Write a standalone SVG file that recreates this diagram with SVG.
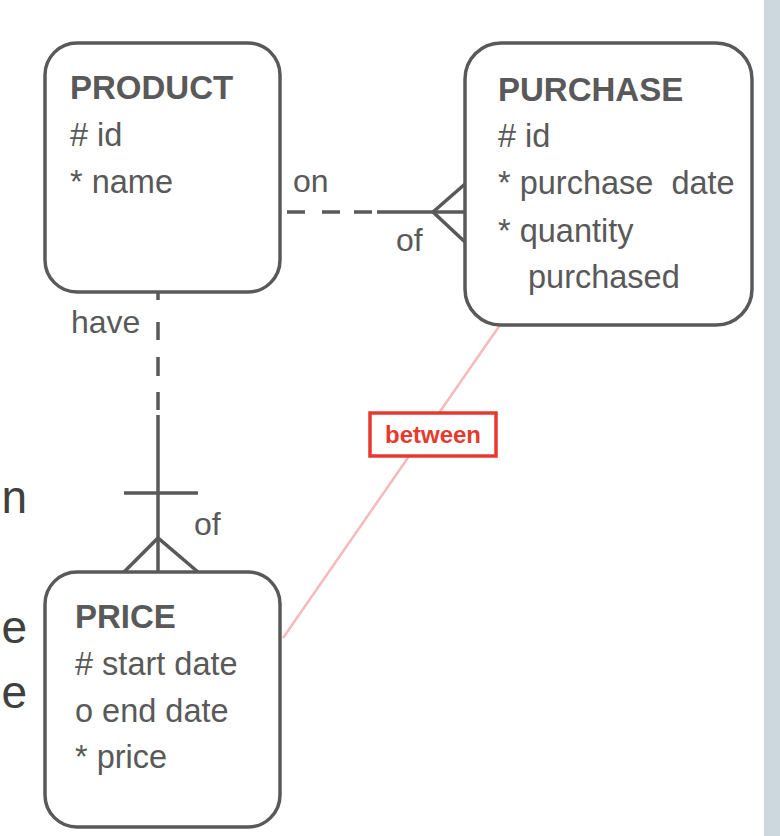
<svg xmlns="http://www.w3.org/2000/svg" width="780" height="836" viewBox="0 0 780 836">
<style>
.box{fill:#fff;stroke:#595959;stroke-width:3.5}
.ttl{font-family:"Liberation Sans",Arial,sans-serif;font-weight:bold;font-size:33px;fill:#595959}
.att{font-family:"Liberation Sans",Arial,sans-serif;font-size:32.5px;fill:#595959}
.lbl{font-family:"Liberation Sans",Arial,sans-serif;font-size:32px;fill:#595959}
.ln{fill:none;stroke:#595959;stroke-width:3.5}
.cut{font-family:"Liberation Sans",Arial,sans-serif;font-size:46px;fill:#404040}
</style>
<rect x="0" y="0" width="780" height="836" fill="#fff"/>
<rect x="764" y="0" width="16" height="836" fill="#cdd8de"/>
<g id="margin-text">
<text class="cut" x="27" y="513" text-anchor="end">n</text>
<text class="cut" x="27" y="643" text-anchor="end">e</text>
<text class="cut" x="27" y="708" text-anchor="end">e</text>
</g>
<g id="connectors">
<line x1="500" y1="325" x2="283" y2="638" stroke="#f5baba" stroke-width="2.5"/>
<path class="ln" d="M287 212H305M322 212H340M354 212H372M377 212H465"/>
<path class="ln" d="M465 184L433 212L465 242"/>
<path class="ln" d="M158 292V300M158 322V340M158 357V376M158 392V410M158 415V572"/>
<path class="ln" d="M124 493H198"/>
<path class="ln" d="M124 572L158 538L198 572"/>
<text class="lbl" x="293" y="192">on</text>
<text class="lbl" x="396" y="251">of</text>
<text class="lbl" x="71" y="333">have</text>
<text class="lbl" x="194" y="535">of</text>
</g>
<g id="product">
<rect class="box" x="45" y="43" width="235" height="249" rx="32"/>
<text class="ttl" x="70" y="99">PRODUCT</text>
<text class="att" x="70" y="146"># id</text>
<text class="att" x="70" y="193">* name</text>
</g>
<g id="purchase">
<rect class="box" x="465" y="43" width="287" height="282" rx="36"/>
<text class="ttl" x="498" y="101">PURCHASE</text>
<text class="att" x="498" y="147"># id</text>
<text class="att" x="498" y="194" xml:space="preserve">* purchase  date</text>
<text class="att" x="498" y="242">* quantity</text>
<text class="att" x="528" y="288">purchased</text>
</g>
<g id="price">
<rect class="box" x="45" y="572" width="235" height="255" rx="32"/>
<text class="ttl" x="75" y="628">PRICE</text>
<text class="att" x="75" y="675"># start date</text>
<text class="att" x="75" y="722">o end date</text>
<text class="att" x="75" y="768">* price</text>
</g>
<g id="between">
<rect x="370" y="413" width="126" height="43" fill="#fff" stroke="#e8392e" stroke-width="3.5"/>
<text x="433" y="443" text-anchor="middle" font-family="Liberation Sans,Arial,sans-serif" font-weight="bold" font-size="24" fill="#e8392e">between</text>
</g>
</svg>
